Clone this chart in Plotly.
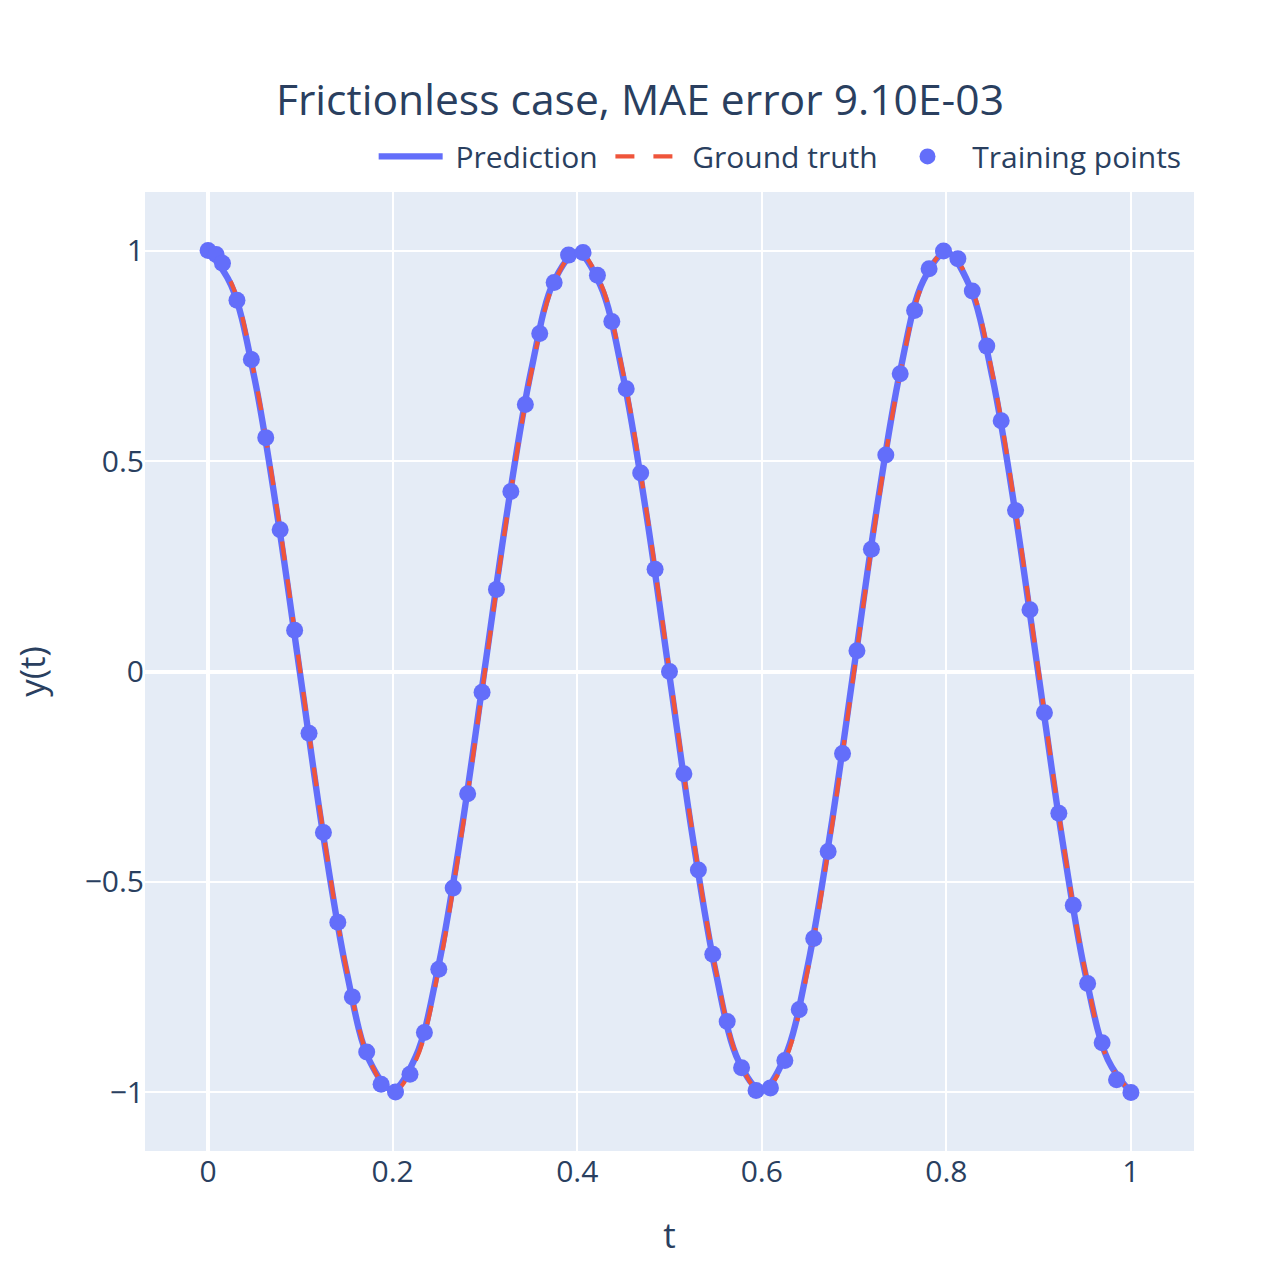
import plotly.graph_objects as go

# Smooth curves (read at t step 0.025)
t_line = [round(0.025 * i, 3) for i in range(41)]
truth_y = [1.0, 0.924, 0.707, 0.383, 0.0, -0.383, -0.707, -0.924, -1.0, -0.924, -0.707, -0.383, 0.0,
           0.383, 0.707, 0.924, 1.0, 0.924, 0.707, 0.383, 0.0, -0.383, -0.707, -0.924, -1.0, -0.924,
           -0.707, -0.383, 0.0, 0.383, 0.707, 0.924, 1.0, 0.924, 0.707, 0.383, 0.0, -0.383, -0.707,
           -0.924, -1.0]
pred_y = [1.0, 0.918, 0.700, 0.372, -0.010, -0.392, -0.712, -0.925, -0.994, -0.915, -0.696, -0.372, 0.010,
          0.392, 0.714, 0.928, 0.996, 0.918, 0.698, 0.373, -0.010, -0.392, -0.713, -0.926, -0.995, -0.916,
          -0.697, -0.372, 0.010, 0.392, 0.714, 0.928, 0.996, 0.917, 0.698, 0.373, -0.010, -0.391, -0.712,
          -0.922, -1.0]

# Training points
t_train = [0.0, 0.0087, 0.0156, 0.0313, 0.0469, 0.0625, 0.0781, 0.0938, 0.1094, 0.125, 0.1406, 0.1563,
           0.1719, 0.1875, 0.2031, 0.2188, 0.2344, 0.25, 0.2656, 0.2813, 0.2969, 0.3125, 0.3281,
           0.3438, 0.3594, 0.375, 0.3906, 0.4063, 0.4219, 0.4375, 0.4531, 0.4688, 0.4844, 0.5,
           0.5156, 0.5313, 0.5469, 0.5625, 0.5781, 0.5938, 0.6094, 0.625, 0.6406, 0.6563, 0.6719,
           0.6875, 0.7031, 0.7188, 0.7344, 0.75, 0.7656, 0.7813, 0.7969, 0.8125, 0.8281, 0.8438,
           0.8594, 0.875, 0.8906, 0.9063, 0.9219, 0.9375, 0.9531, 0.9688, 0.9844, 1.0]
y_train = [1.0, 0.9907, 0.970, 0.8819, 0.741, 0.5556, 0.3369, 0.098, -0.1467, -0.3827, -0.5957, -0.773,
           -0.904, -0.9808, -0.9988, -0.9569, -0.8577, -0.7071, -0.5141, -0.2903, -0.0491, 0.1951,
           0.4276, 0.6344, 0.8032, 0.9239, 0.9892, 0.9952, 0.9415, 0.8315, 0.6716, 0.4714, 0.243,
           0.0, -0.243, -0.4714, -0.6716, -0.8315, -0.9415, -0.9952, -0.9892, -0.9239, -0.8032,
           -0.6344, -0.4276, -0.1951, 0.0491, 0.2903, 0.5141, 0.7071, 0.8577, 0.9569, 0.9988,
           0.9808, 0.904, 0.773, 0.5957, 0.3827, 0.1467, -0.098, -0.3369, -0.5556, -0.741, -0.8819,
           -0.970, -1.0]

NB = "\u00a0"

fig = go.Figure()
fig.add_trace(go.Scatter(x=t_line, y=pred_y, mode="lines", name=NB + "Prediction" + NB,
                         line=dict(color="#636efa", width=6.4, shape="spline")))
fig.add_trace(go.Scatter(x=t_line, y=truth_y, mode="lines", name=NB + "Ground truth" + NB,
                         line=dict(color="#EF553B", width=4.3, dash="19px,19px", shape="spline")))
fig.add_trace(go.Scatter(x=t_train, y=y_train, mode="markers", name=NB + "Training points",
                         marker=dict(color="#636efa", size=17)))

fig.update_layout(
    width=1280, height=1280,
    template="plotly",
    font=dict(family="Open Sans, verdana, arial, sans-serif", size=30, color="#2a3f5f"),
    title=dict(text="Frictionless case, MAE error 9.10E-03", x=632 / 1280, xanchor="center",
               xref="container", y=1 - 92 / 1280, yanchor="middle", font=dict(size=42.6)),
    margin=dict(l=137, r=94, t=184, b=137),
    legend=dict(orientation="h", x=0.993, xanchor="right", y=1.010, yanchor="bottom",
                font=dict(size=30), itemwidth=64),
    xaxis=dict(title=dict(text="t", font=dict(size=35), standoff=33), tickfont=dict(size=30),
               gridwidth=2, zerolinewidth=4, automargin=False),
    yaxis=dict(title=dict(text="y(t)", font=dict(size=35), standoff=32), tickfont=dict(size=30),
               gridwidth=2, zerolinewidth=4, automargin=False),
)

fig.write_html("out.html")
